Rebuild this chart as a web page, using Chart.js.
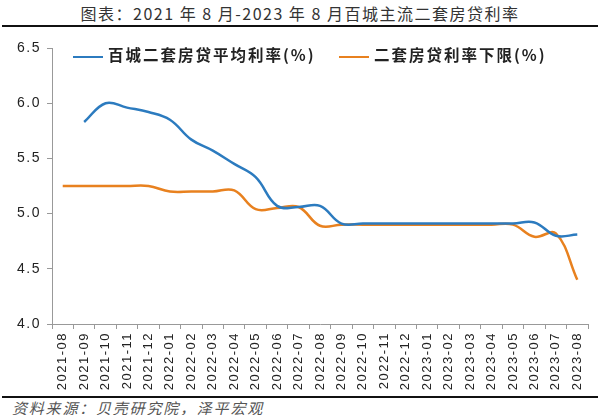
<!DOCTYPE html>
<html>
<head>
<meta charset="utf-8">
<script src="https://cdn.jsdelivr.net/npm/chart.js@4.4.0/dist/chart.umd.min.js"></script>
<style>
  body { margin:0; width:600px; height:415px; background:#fff; position:relative; overflow:hidden;
         font-family:"Noto Sans CJK SC", sans-serif; }
  #title { position:absolute; top:1px; left:0; width:600px; text-align:center; font-size:16px; letter-spacing:1.5px; color:#333; }
  .rule { position:absolute; left:2px; width:596px; height:2px; background:#111; }
  #wrap { position:absolute; left:0; top:30px; width:600px; height:366px; }
  #legend { position:absolute; top:43px; left:0; width:600px; height:20px; font-size:15.5px; font-weight:bold; letter-spacing:2px; color:#222; }
  .item { position:absolute; top:0; white-space:nowrap; }
  .item i { display:inline-block; width:30px; height:2.5px; vertical-align:middle; margin-right:5px; }
  #source { position:absolute; left:12px; top:397px; font-size:15px; letter-spacing:1.8px; font-style:italic; color:#555; }
</style>
</head>
<body>
<div id="title">图表：2021 年 8 月-2023 年 8 月百城主流二套房贷利率</div>
<div class="rule" style="top:25px"></div>
<div id="wrap"><canvas id="rate"></canvas></div>
<div id="legend"></div>
<div class="rule" style="top:396px"></div>
<div id="source">资料来源：贝壳研究院，泽平宏观</div>
<script>
// 月份
const months = ['2021-08','2021-09','2021-10','2021-11','2021-12',
  '2022-01','2022-02','2022-03','2022-04','2022-05','2022-06','2022-07','2022-08',
  '2022-09','2022-10','2022-11','2022-12',
  '2023-01','2023-02','2023-03','2023-04','2023-05','2023-06','2023-07','2023-08'];
// 百城二套房贷平均利率
const avgRate = [null,5.83,6.00,5.96,5.92,5.85,5.67,5.57,5.45,5.33,5.07,5.06,5.07,
  4.91,4.91,4.91,4.91,4.91,4.91,4.91,4.91,4.91,4.92,4.80,4.81];
// 二套房贷利率下限
const floorRate = [5.25,5.25,5.25,5.25,5.25,5.20,5.20,5.20,5.21,5.04,5.05,5.06,4.89,
  4.90,4.90,4.90,4.90,4.90,4.90,4.90,4.90,4.90,4.79,4.82,4.40];
const yTicks = [4.0,4.5,5.0,5.5,6.0,6.5];
const names = ['百城二套房贷平均利率(%)','二套房贷利率下限(%)'];
const colors = ['#2c7bbf','#e8811f'];

// 图例
const legendPos = [73, 339];
names.forEach(function(n, i){
  const d = document.createElement('div');
  d.className = 'item';
  d.style.left = legendPos[i] + 'px';
  d.innerHTML = '<i style="background:' + colors[i] + '"></i>' + n;
  document.getElementById('legend').appendChild(d);
});

// 刻度文字加字距
const spacing = {
  id: 'spacing',
  beforeDraw: function(chart){ chart.ctx.letterSpacing = '1.5px'; }
};

const ctx = document.getElementById('rate').getContext('2d');
new Chart(ctx, {
  type: 'line',
  data: {
    labels: months,
    datasets: [
      { label: names[0], data: avgRate, borderColor: colors[0], borderWidth: 2.5, pointRadius: 0, tension: 0.4, spanGaps: false },
      { label: names[1], data: floorRate, borderColor: colors[1], borderWidth: 2.5, pointRadius: 0, tension: 0.4 }
    ]
  },
  plugins: [spacing],
  options: {
    responsive: true,
    maintainAspectRatio: false,
    animation: false,
    layout: { padding: { left: 0, right: 12, top: 18, bottom: 0 } },
    plugins: { legend: { display: false }, tooltip: { enabled: false } },
    scales: {
      x: {
        offset: true,
        grid: { offset: true, drawOnChartArea: false, tickLength: 5, color: '#999' },
        border: { color: '#999' },
        ticks: { minRotation: 90, maxRotation: 90, autoSkip: false, color: '#222', padding: 3,
                 font: { family: 'Arial, "Liberation Sans"', size: 13 } },
        afterFit: function(s){ s.height = 72; }
      },
      y: {
        min: 4.0, max: 6.5,
        afterBuildTicks: function(s){ s.ticks = yTicks.map(v => ({ value: v })); },
        grid: { drawOnChartArea: false, tickLength: 5, color: '#999' },
        border: { color: '#999' },
        ticks: { color: '#222', padding: 6, callback: v => v.toFixed(1),
                 font: { family: 'Arial, "Liberation Sans"', size: 14 } },
        afterFit: function(s){ s.width = 52; }
      }
    }
  }
});
</script>
</body>
</html>
